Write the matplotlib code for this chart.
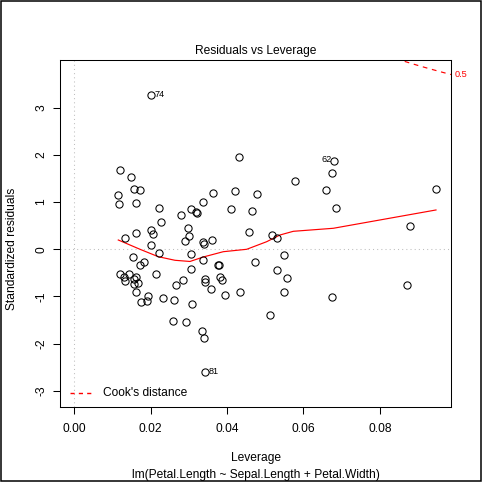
import matplotlib
matplotlib.use("Agg")
import matplotlib.pyplot as plt
import numpy as np
from matplotlib.patches import Rectangle
import matplotlib.transforms as mtransforms

plt.rcParams['font.family'] = ['Liberation Sans', 'DejaVu Sans']
plt.rcParams['axes.unicode_minus'] = False

# ---- data ----
leverage = [0.02003, 0.04306, 0.01199, 0.01479, 0.01565, 0.01723, 0.01154, 0.01181, 0.01618, 0.02207,
            0.02264, 0.02804, 0.03058, 0.03181, 0.03215, 0.03364, 0.03634, 0.04202, 0.04780, 0.04092,
            0.04647, 0.02979, 0.02003, 0.02055, 0.01618, 0.01330, 0.03013, 0.02908, 0.03366, 0.03385,
            0.03599, 0.04576, 0.05186, 0.05301, 0.02003, 0.02212, 0.03058, 0.01545, 0.03380, 0.01840,
            0.01723, 0.03772, 0.03803, 0.04725, 0.05309, 0.03058, 0.05484, 0.02149, 0.01199, 0.01304,
            0.01338, 0.01442, 0.01565, 0.01618, 0.01565, 0.01670, 0.01618, 0.02673, 0.02848, 0.03416,
            0.03424, 0.03817, 0.03861, 0.03581, 0.03948, 0.04340, 0.01736, 0.01945, 0.01914, 0.02325,
            0.02613, 0.03084, 0.02594, 0.02927, 0.05113, 0.03353, 0.03390, 0.03424, 0.05571, 0.05484,
            0.06749, 0.08720, 0.06809, 0.06749, 0.05780, 0.06584, 0.09471, 0.06861, 0.08798]
std_resid = [3.275, 1.962, 1.674, 1.525, 1.278, 1.256, 1.157, 0.966, 0.987, 0.875,
             0.585, 0.733, 0.860, 0.784, 0.775, 1.008, 1.193, 1.242, 1.161, 0.860,
             0.818, 0.458, 0.409, 0.314, 0.352, 0.229, 0.288, 0.169, 0.165, 0.106,
             0.197, 0.360, 0.297, 0.233, 0.091, -0.078, -0.100, -0.157, -0.220, -0.275,
             -0.333, -0.343, -0.343, -0.263, -0.432, -0.417, -0.114, -0.517, -0.534, -0.587,
             -0.672, -0.523, -0.619, -0.581, -0.735, -0.708, -0.898, -0.763, -0.650, -0.636,
             -0.686, -0.597, -0.661, -0.831, -0.975, -0.911, -1.110, -0.996, -1.091, -1.038,
             -1.074, -1.163, -1.519, -1.534, -1.386, -1.731, -1.886, -2.606, -0.602, -0.898,
             -1.004, -0.750, 1.877, 1.610, 1.441, 1.263, 1.284, 0.881, 0.500]

smooth_x = [0.01154, 0.01723, 0.02202, 0.02639, 0.03031, 0.03380, 0.03903, 0.04516,
            0.05039, 0.05387, 0.05736, 0.06783, 0.09471]
smooth_y = [0.197, 0.000, -0.157, -0.233, -0.258, -0.163, -0.051, 0.000,
            0.161, 0.303, 0.381, 0.445, 0.833]

id_index = [0, 82, 77]
id_text = ['74', '62', '81']
id_side = ['right', 'left', 'right']

cook_levels = [0.5]
n_coef = 3

x_ticks = [0.00, 0.02, 0.04, 0.06, 0.08]
x_ticklabels = ['0.00', '0.02', '0.04', '0.06', '0.08']
y_ticks = [-3, -2, -1, 0, 1, 2, 3]

# ---- figure ----
W, H = 483, 482
fig = plt.figure(figsize=(W / 100, H / 100), dpi=100)
L, R, T, B = 60, 451, 60, 407
ax = fig.add_axes([L / W, (H - B) / H, (R - L) / W, (B - T) / H])
FS = 8.64
FS_ID = 6.6

ax.set_xlim(-0.003717, 0.098639)
ax.set_ylim(-3.341, 4.010)

ax.axhline(0, color='#bebebe', lw=0.75, ls=(0, (1, 3)), zorder=1)
ax.axvline(0, color='#bebebe', lw=0.75, ls=(0, (1, 3)), zorder=1)

ax.plot(leverage, std_resid, 'o', ms=5.2, mfc='none', mec='black', mew=0.75, zorder=3)
ax.plot(smooth_x, smooth_y, color='red', lw=0.85, zorder=2)

# Cook's distance contour
xmin, xmax = ax.get_xlim()
hh = np.linspace(0.0005, xmax, 200)
for lev in cook_levels:
    cy = np.sqrt(lev * n_coef * (1 - hh) / hh)
    ax.plot(hh, cy, color='red', lw=0.85, ls=(0, (4, 4)), zorder=2)
    ax.plot(hh, -cy, color='red', lw=0.85, ls=(0, (4, 4)), zorder=2)
    yend = np.sqrt(lev * n_coef * (1 - xmax) / xmax)
    trans = mtransforms.blended_transform_factory(ax.transAxes, ax.transData)
    ax.annotate(f'{lev:g}', xy=(1, yend), xycoords=trans, xytext=(2.6, 0),
                textcoords='offset points', ha='left', va='center', color='red',
                fontsize=FS_ID, annotation_clip=False)

for i, t, s in zip(id_index, id_text, id_side):
    off = 2.4 if s == 'right' else -2.0
    ax.annotate(t, xy=(leverage[i], std_resid[i]), xytext=(off, 0.5),
                textcoords='offset points', ha='left' if s == 'right' else 'right',
                va='center', fontsize=FS_ID)

# legend
ax.plot([0.0256, 0.0818], [0.0403, 0.0403], transform=ax.transAxes, color='#ff0000',
        lw=1.0, ls=(0, (3, 3)))
ax.text(0.1107, 0.0403, "Cook's distance", transform=ax.transAxes, fontsize=FS,
        va='center', ha='left')

ax.set_xticks(x_ticks)
ax.set_xticklabels(x_ticklabels)
ax.set_yticks(y_ticks)
ax.tick_params(axis='both', direction='out', length=5.3, width=0.75, labelsize=FS)
ax.tick_params(axis='x', pad=6.3)
ax.tick_params(axis='y', pad=4.0, labelrotation=90)
for lab in ax.get_yticklabels():
    lab.set_va('center')
for sp in ax.spines.values():
    sp.set_linewidth(0.75)

fig.text(255.5 / W, (H - 54) / H, 'Residuals vs Leverage', ha='center', va='baseline', fontsize=FS)
fig.text(255.5 / W, (H - 461.5) / H, 'Leverage', ha='center', va='baseline', fontsize=FS)
fig.text(255.5 / W, (H - 478) / H, 'lm(Petal.Length ~ Sepal.Length + Petal.Width)',
         ha='center', va='baseline', fontsize=FS)
fig.text(12 / W, 233.5 / H, 'Standardized residuals', ha='center', va='center',
         rotation=90, fontsize=FS)

fig.patches.append(Rectangle((0.5 / W, 1.5 / H), 480 / W, 480 / H, transform=fig.transFigure,
                             fill=False, edgecolor='black', lw=1.1))

fig.savefig('out.png', dpi=100)
